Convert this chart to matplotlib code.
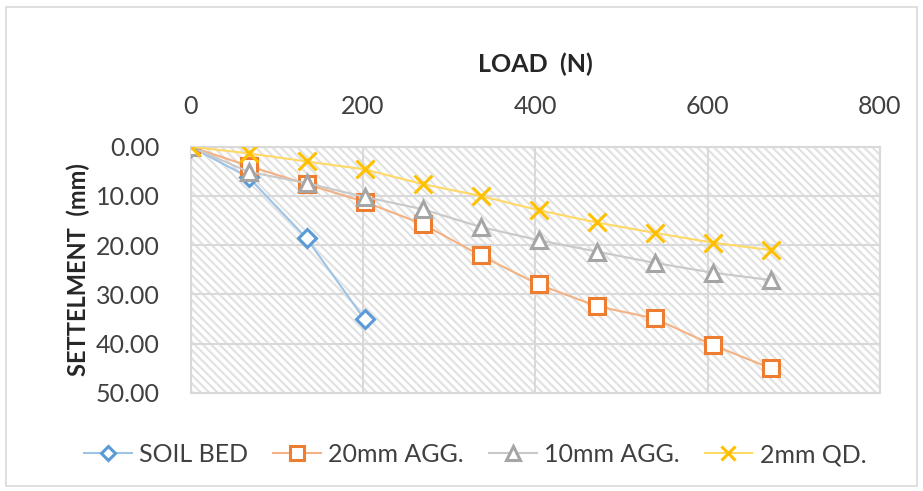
import matplotlib
matplotlib.use("Agg")
import matplotlib.pyplot as plt
from matplotlib.patches import Rectangle

# load steps (N) and settlement readings (mm)
load = [0, 67.3, 134.6, 201.9, 269.2, 336.5, 403.8, 471.1, 538.4, 605.7, 673.0]
soil_bed = [0.0, 6.2, 18.6, 35.1]
agg_20mm = [0.0, 3.9, 7.6, 11.2, 15.7, 22.1, 28.0, 32.4, 34.9, 40.3, 45.0]
agg_10mm = [0.0, 5.1, 7.4, 10.2, 12.7, 16.3, 19.0, 21.3, 23.6, 25.6, 27.1]
qd_2mm = [0.0, 1.35, 3.0, 4.6, 7.6, 10.0, 12.9, 15.4, 17.5, 19.5, 21.0]

x_ticks = [0, 200, 400, 600, 800]
y_ticks = [0, 10, 20, 30, 40, 50]

plt.rcParams['font.family'] = ['Lato', 'DejaVu Sans']
plt.rcParams['hatch.linewidth'] = 1.6

fig = plt.figure(figsize=(9.23, 4.91), dpi=100)
fig.patches.append(Rectangle((0.007, 0.01), 0.986, 0.975, transform=fig.transFigure,
                             fill=False, edgecolor='#d9d9d9', linewidth=1.2))
ax = fig.add_axes([0.2064, 0.2002, 0.7470, 0.5010])

# hatched plot area
ax.add_patch(Rectangle((0, 0), 1, 1, transform=ax.transAxes, facecolor='white',
                       edgecolor='#e2e2e2', linewidth=0, hatch='\\\\\\\\', zorder=0))

series = [
    ('SOIL BED', load[:len(soil_bed)], soil_bed, '#5b9bd5', '#9dc3e6', 'D', 9),
    ('20mm AGG.', load, agg_20mm, '#ed7d31', '#f4b183', 's', 12),
    ('10mm AGG.', load, agg_10mm, '#a5a5a5', '#c9c9c9', '^', 12),
    ('2mm QD.', load, qd_2mm, '#ffc000', '#ffd966', 'x', 13),
]
for i, (name, xs, ys, mc, lc, mk, ms) in enumerate(series):
    ax.plot(xs, ys, color=lc, linewidth=1.5, marker=mk, markersize=ms,
            markerfacecolor='white', markeredgecolor=mc, markeredgewidth=2.2,
            label=name, zorder=3 + i)

ax.set_xlim(0, 800)
ax.set_ylim(50, 0)
ax.set_xticks(x_ticks)
ax.set_yticks(y_ticks)
ax.set_yticklabels([f'{v:.2f}' for v in y_ticks])
ax.xaxis.tick_top()
ax.xaxis.set_label_position('top')
ax.tick_params(axis='both', length=0, labelsize=18, labelcolor='#404040')
ax.tick_params(axis='x', pad=21)
ax.tick_params(axis='y', pad=22)
ax.grid(True, color='#d9d9d9', linewidth=1.5, zorder=1)
ax.set_axisbelow(True)
for s in ax.spines.values():
    s.set_color('#d9d9d9')
    s.set_linewidth(1.5)

ax.set_xlabel('LOAD  (N)', fontsize=18, fontweight='bold', color='#262626', labelpad=16)
ax.set_ylabel('SETTELMENT  (mm)', fontsize=17, fontweight='bold', color='#262626', labelpad=4)

leg = fig.legend(loc='center', bbox_to_anchor=(0.515, 0.074), ncol=4, frameon=False,
                 fontsize=18, handlelength=1.9, handletextpad=0.3, columnspacing=1.0,
                 markerscale=0.8)
for t in leg.get_texts():
    t.set_color('#404040')

fig.savefig('out.png', dpi=100)
